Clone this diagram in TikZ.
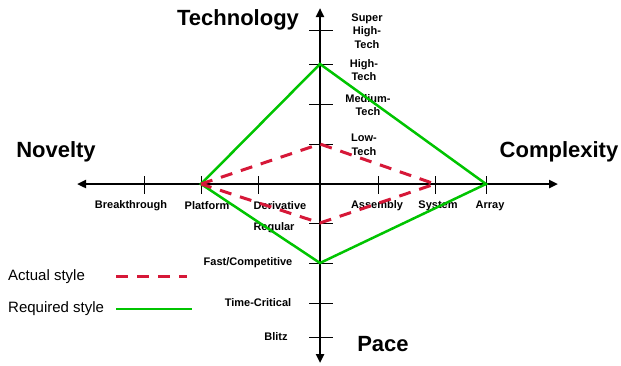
\documentclass[tikz,border=0pt]{standalone}
\usepackage{fontspec}
\setmainfont{Liberation Sans}
\usetikzlibrary{arrows.meta}
\definecolor{actualred}{RGB}{214,24,56}
\definecolor{requiredgreen}{RGB}{0,196,0}
\tikzset{
  axisline/.style={line width=2.4pt,{Triangle[length=9pt,width=8pt]}-{Triangle[length=9pt,width=8pt]}},
  tickline/.style={line width=1pt},
  ticklabel/.style={font=\fontsize{11}{13.5}\selectfont\bfseries,align=center,inner sep=0pt},
  title/.style={font=\fontsize{22}{26}\selectfont\bfseries,inner sep=0pt},
  legendtext/.style={font=\fontsize{15}{18}\selectfont,anchor=west,inner sep=0pt},
  actual/.style={actualred,line width=3pt,dash pattern=on 12pt off 9pt},
  required/.style={requiredgreen,line width=2.5pt},
}
\begin{document}
\begin{tikzpicture}[x=1pt,y=-1pt]
  \useasboundingbox (0,0) rectangle (621,365);
  % axes
  \coordinate (o) at (320,184);
  \coordinate (west) at (77,184);
  \coordinate (east) at (558,184);
  \coordinate (north) at (320,8);
  \coordinate (south) at (320,363);
  \draw[axisline] (west) -- (east);
  \draw[axisline] (north) -- (south);
  % ticks on the horizontal axis
  \foreach \x/\name/\txt in {144/brk/Breakthrough, 201/plt/Platform, 258/der/Derivative,
                             378/asm/Assembly, 435/sys/System, 486/arr/Array}
  {
    \coordinate (\name) at (\x,184);
    \draw[tickline] (\x,176) -- (\x,194);
  }
  \node[ticklabel] (lbrk) at (131,206) {Breakthrough};
  \node[ticklabel] (lplt) at (207,206) {Platform};
  \node[ticklabel] (lder) at (280,206) {Derivative};
  \node[ticklabel] (lasm) at (377,206) {Assembly};
  \node[ticklabel] (lsys) at (438,206) {System};
  \node[ticklabel] (larr) at (490,206) {Array};
  % ticks on the vertical axis
  \foreach \y/\name in {30/sht, 64/ht, 104/mt, 144/lt, 223/reg, 263/fast, 303/tcr, 337/blz}
  {
    \coordinate (\name) at (320,\y);
    \draw[tickline] (309,\y) -- (333,\y);
  }
  \node[ticklabel] (lsht) at (367,31) {Super\\High-\\Tech};
  \node[ticklabel] (lht) at (364,70) {High-\\Tech};
  \node[ticklabel] (lmt) at (368,105) {Medium-\\Tech};
  \node[ticklabel] (llt) at (364,145) {Low-\\Tech};
  \node[ticklabel] (lreg) at (274,228) {Regular};
  \node[ticklabel] (lfast) at (248,263) {Fast/Competitive};
  \node[ticklabel] (ltcr) at (258,303) {Time-Critical};
  \node[ticklabel] (lblz) at (276,337) {Blitz};
  % axis titles
  \node[title] (technology) at (238,20) {Technology};
  \node[title] (novelty) at (56,152) {Novelty};
  \node[title] (complexity) at (559,152) {Complexity};
  \node[title] (pace) at (383,344) {Pace};
  % profiles
  \draw[required,line join=miter] (plt) -- (ht) -- (arr) -- (fast) -- cycle;
  \draw[actual,line join=miter] (plt) -- (lt) -- (sys) -- (reg) -- cycle;
  % legend
  \node[legendtext] (actualkey) at (8,277) {Actual style};
  \node[legendtext] (requiredkey) at (8,309) {Required style};
  \coordinate (a1) at (116,276);
  \coordinate (a2) at (187,276);
  \coordinate (r1) at (116,309);
  \coordinate (r2) at (192,309);
  \draw[actual] (a1) -- (a2);
  \draw[required] (r1) -- (r2);
\end{tikzpicture}
\end{document}
